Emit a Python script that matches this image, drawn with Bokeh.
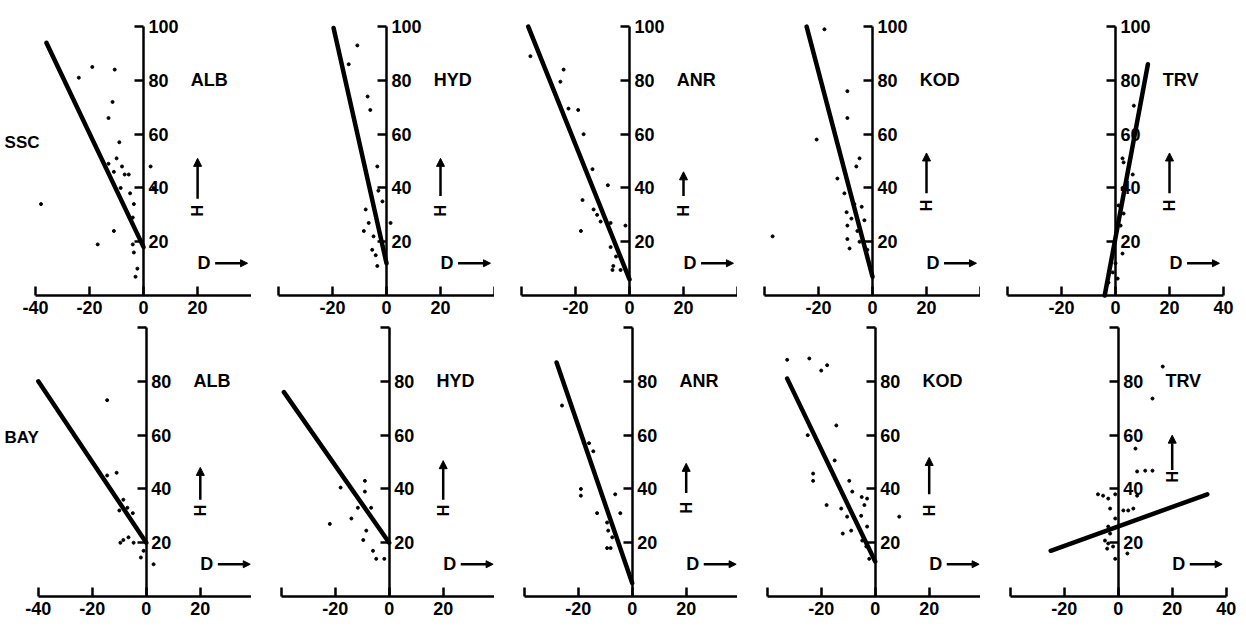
import math
from bokeh.plotting import figure
from bokeh.layouts import column, row
from bokeh.models import LinearAxis, FixedTicker, Arrow, NormalHead, Range1d, Label
from bokeh.embed import file_html
from bokeh.resources import INLINE

stations = ["ALB", "HYD", "ANR", "KOD", "TRV"]
seasons = ["SSC", "BAY"]

# x-axis (D) ticks and labels per column
x_ticks = [-40, -20, 0, 20, 40]
x_labels_col = [
    ["-40", "-20", "0", "20", ""],
    ["", "-20", "0", "20", ""],
    ["", "-20", "0", "20", ""],
    ["", "-20", "0", "20", ""],
    ["", "-20", "0", "20", "40"],
]
# y-axis (H) ticks and labels per row
y_ticks = [20, 40, 60, 80, 100]
y_labels_row = [
    ["20", "40", "60", "80", "100"],
    ["20", "40", "60", "80", ""],
]

# regression lines (start and end points in D, H)
ssc_line_d0 = [-36, -19.6, -37.5, -24.4, -4]
ssc_line_h0 = [94, 99.5, 100, 100, 0]
ssc_line_d1 = [0, 0, 0, 0, 12]
ssc_line_h1 = [18, 12, 6, 7, 86]
bay_line_d0 = [-40, -39, -28, -32.6, -25]
bay_line_h0 = [80, 76, 87, 81, 17]
bay_line_d1 = [0, 0, 0, 0, 33]
bay_line_h1 = [20, 20, 5, 13, 38]

# observations
alb_ssc_d = [-19, -10.7, -24, -11.5, -13, -9, -13, -10, -8, -7, -5.5, -11, -8.5, -5, -3.6, -4, -11, -17, -2.3, -3.6, -2.3, -3, -4, -38, 2.6, 3.7]
alb_ssc_h = [85, 84, 81, 72, 66, 57, 49, 51, 48, 45, 45, 46, 40, 38, 34, 29, 24, 19, 23, 16, 10, 7, 19, 34, 48, 40]
alb_bay_d = [-14.5, -11, -8.5, -7, -10, -5, -4.7, -8.5, -6.6, -9.6, -4.7, -2, -1, 2.7, -14.5]
alb_bay_h = [45, 46, 36, 33, 32, 31, 27, 21, 22, 20, 20, 14.5, 17, 12, 73]
hyd_ssc_d = [-10.8, -14, -7, -6, -3.4, -3, -7.7, -6.6, -8.4, -4.8, -5.3, -4, -3.4, 1.5, -1.5]
hyd_ssc_h = [93, 86, 74, 69, 48, 39, 32, 27, 24, 22, 17, 15, 11, 27, 35]
hyd_bay_d = [-9, -9, -18, -14, -11.6, -8.5, -9.6, -6, -4.8, -1.8, -6.7, -22]
hyd_bay_h = [43, 39, 40.5, 29, 33, 24.5, 21, 17, 14, 14, 33, 27]
anr_ssc_d = [-36.7, -25.6, -24.4, -22.6, -19, -17, -13.7, -8, -17.4, -13.3, -12, -10.7, -18, -7, -1.5, -7, -5, -6, -3.3, -6.3]
anr_ssc_h = [89, 79.5, 84, 69.5, 69, 60, 47, 41, 35.5, 32, 30, 27.5, 24, 27, 26, 18, 14.5, 11, 9.5, 9.5]
anr_bay_d = [-26, -16, -14.4, -19, -19, -6.3, -13, -4.4, -9.3, -8.9, -7.4, -8, -9.3]
anr_bay_h = [71, 57, 54, 40, 37.5, 38, 31, 31, 27.5, 24.5, 22, 18, 18]
kod_ssc_d = [-17.8, -9.3, -9.3, -20.7, -4.8, -6, -13, -10.4, -6.7, -4, -9.6, -7.8, -3, -9.3, -5.6, -9.3, -4.8, -8.5, -1.9, -37]
kod_ssc_h = [99, 76, 66, 58, 51, 48, 43.5, 38, 34, 33, 31, 28.6, 28, 26, 24, 21, 20, 17.5, 17, 22]
kod_bay_d = [-24.4, -20, -17.8, -32.6, -14.4, -25, -15, -23, -23, -9.6, -8.5, -5, -3, -18, -12.6, -4, -10.4, -5.2, -3, -12, -8.9, -4.8, -3.3, -2.2, 8.9]
kod_bay_h = [88.5, 84, 86, 88, 63.6, 60, 50.6, 45.7, 43, 43, 39, 37, 36.4, 34, 32.7, 34, 29.7, 30, 26, 23.4, 24.5, 20.8, 18.6, 14, 29.7]
trv_ssc_d = [6.8, 3, 2.6, 6.4, 2.6, 1.1, 3, 1.9, 2.6, 0, -1, 0.8, -2.6]
trv_ssc_h = [70.6, 49.5, 51, 45, 40, 33.5, 30.5, 26, 15.6, 12, 8.6, 6.3, 4.8]
trv_bay_d = [16.5, 12.7, 6.4, 10, 12.7, 7, -7.5, -5.6, -3.7, -1.1, 7, -3, 1.9, 3.7, 5.6, -1.1, -3.7, -3, -4.9, -3.7, -1.9, -4.1, 3.4, -1.1]
trv_bay_h = [85.5, 73.6, 55, 46.8, 46.8, 46.5, 38, 37.5, 36.4, 38, 37.5, 32.7, 32, 32, 32.7, 29, 26, 23.4, 20.8, 19.7, 18.6, 17.8, 16, 14]

obs = {
    "SSC": [(alb_ssc_d, alb_ssc_h), (hyd_ssc_d, hyd_ssc_h), (anr_ssc_d, anr_ssc_h), (kod_ssc_d, kod_ssc_h), (trv_ssc_d, trv_ssc_h)],
    "BAY": [(alb_bay_d, alb_bay_h), (hyd_bay_d, hyd_bay_h), (anr_bay_d, anr_bay_h), (kod_bay_d, kod_bay_h), (trv_bay_d, trv_bay_h)],
}
lines = {
    "SSC": (ssc_line_d0, ssc_line_h0, ssc_line_d1, ssc_line_h1),
    "BAY": (bay_line_d0, bay_line_h0, bay_line_d1, bay_line_h1),
}

# ---- layout / style (not data) ----
FONT = "Liberation Sans"
FS = "18px"
PX = 2.7  # pixels per data unit horizontally
col_w = [251, 243, 243, 243, 266]
row_h = [323, 310]
row_yrange = [(-10.4, 109.7), (-13.75, 101.5)]
row_xstart = [[-53, -50, -50, -50, -50], [-54, -51, -51, -51, -51]]
# H-arrow (start, end) and H-letter position, per row/column
h_arrow = {
    "SSC": [(36, 51, 31.5), (37, 51, 31.5), (37, 46, 31.5), (38, 53, 33.5), (38, 53, 33.5)],
    "BAY": [(36, 48, 32), (36, 50.5, 32), (38.5, 49.5, 33), (38, 51.7, 32), (47, 60, 44.5)],
}


def style_axis(ax):
    ax.axis_line_width = 2.5
    ax.axis_line_color = "black"
    ax.major_tick_line_width = 2.5
    ax.major_tick_line_color = "black"
    ax.major_tick_in = 9
    ax.major_tick_out = 0
    ax.minor_tick_in = 0
    ax.minor_tick_out = 0
    ax.major_label_text_font = FONT
    ax.major_label_text_font_size = FS
    ax.major_label_text_font_style = "bold"
    ax.major_label_text_color = "black"
    ax.major_label_standoff = 5


def txt(p, x, y, s, align="left", angle=0.0, size=FS):
    p.add_layout(Label(x=x, y=y, text=s, text_font=FONT, text_font_size=size,
                       text_font_style="bold", text_color="black",
                       text_align=align, text_baseline="middle", angle=angle))


rows = []
for r, season in enumerate(seasons):
    figs = []
    for c, st in enumerate(stations):
        w = col_w[c]
        x0 = row_xstart[r][c]
        p = figure(width=w, height=row_h[r],
                   x_range=Range1d(x0, x0 + w / PX),
                   y_range=Range1d(*row_yrange[r]),
                   x_axis_location=None, y_axis_location=None,
                   toolbar_location=None, output_backend="svg",
                   min_border=0)
        p.xgrid.visible = False
        p.ygrid.visible = False
        p.outline_line_color = None
        p.background_fill_color = "white"
        p.border_fill_color = "white"

        xa = LinearAxis(fixed_location=0, bounds=(-40, 40),
                        ticker=FixedTicker(ticks=x_ticks),
                        major_label_overrides={t: l for t, l in zip(x_ticks, x_labels_col[c])})
        style_axis(xa)
        p.add_layout(xa, "below")
        ya = LinearAxis(fixed_location=0, bounds=(0, 100),
                        ticker=FixedTicker(ticks=y_ticks),
                        major_label_overrides={t: l for t, l in zip(y_ticks, y_labels_row[r])})
        style_axis(ya)
        p.add_layout(ya, "right")

        d, h = obs[season][c]
        p.scatter(d, h, size=3, color="black")
        ld0, lh0, ld1, lh1 = lines[season]
        p.line([ld0[c], ld1[c]], [lh0[c], lh1[c]], line_width=4.5, color="black", line_cap="round")

        txt(p, 17.5, 80, st)
        a0, a1, hy = h_arrow[season][c]
        p.add_layout(Arrow(end=NormalHead(size=8, fill_color="black", line_color="black"),
                           x_start=20, y_start=a0, x_end=20, y_end=a1,
                           line_width=2.5, line_color="black"))
        txt(p, 20, hy, "H", align="center", angle=math.pi / 2, size="16px")
        txt(p, 20, 12, "D")
        p.add_layout(Arrow(end=NormalHead(size=7, fill_color="black", line_color="black"),
                           x_start=26.5, y_start=12, x_end=38.5, y_end=12,
                           line_width=2.5, line_color="black"))
        if c == 0:
            txt(p, x0 + 1.5, 57 if r == 0 else 59, season, size="17px")
        figs.append(p)
    rows.append(row(*figs, spacing=0))

layout = column(*rows, spacing=0)
open("out.html", "w").write(file_html(layout, INLINE))
